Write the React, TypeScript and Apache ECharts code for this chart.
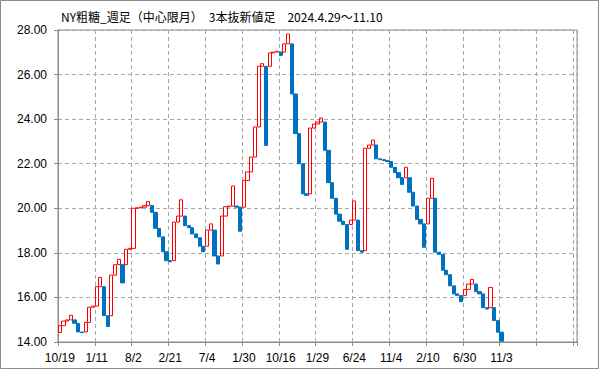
import React, { useEffect, useRef } from "react";
import * as echarts from "echarts";

// Three-line-break ("3本抜新値足") lines: open and close of each line
const lineOpen: number[] = [
  14.43, 14.73, 14.94, 14.99, 14.99, 14.84, 14.45, 14.45, 14.88, 15.56,
  15.61, 16.48, 16.48, 15.18, 15.18, 17.0, 17.47, 17.47, 17.47, 18.16,
  18.2, 20.0, 20.02, 20.05, 20.12, 20.12, 19.82, 19.1, 18.72, 18.05,
  17.65, 17.65, 19.38, 19.65, 19.65, 19.22, 19.13, 18.85, 18.68, 18.3,
  18.3, 19.02, 19.02, 17.86, 17.86, 19.65, 20.07, 20.1, 20.1, 20.05,
  20.05, 21.25, 21.63, 22.3, 23.65, 26.37, 26.37, 26.37, 26.97, 27.01,
  27.01, 27.01, 27.38, 27.38, 25.13, 23.35, 22.0, 20.65, 20.65, 23.6,
  23.78, 23.87, 23.87, 22.6, 21.15, 20.45, 19.74, 19.42, 19.27, 19.27,
  19.47, 19.47, 18.1, 18.1, 22.69, 22.84, 22.84, 22.22, 22.18, 22.14,
  22.1, 21.84, 21.6, 21.37, 21.37, 21.37, 20.72, 20.1, 19.5, 19.3,
  19.3, 20.45, 20.45, 18.03, 17.93, 17.22, 17.02, 16.52, 16.16, 16.09,
  16.09, 16.36, 16.6, 16.6, 16.26, 16.16, 15.54, 15.54, 15.54, 14.96,
  14.44,
];
const lineClose: number[] = [
  14.73, 14.94, 14.99, 15.2, 14.84, 14.45, 14.42, 14.88, 15.56, 15.61,
  16.48, 16.9, 15.18, 14.69, 17.0, 17.47, 17.71, 16.65, 18.16, 18.2,
  20.0, 20.02, 20.05, 20.12, 20.3, 19.82, 19.1, 18.72, 18.05, 17.65,
  17.6, 19.38, 19.65, 20.38, 19.22, 19.13, 18.85, 18.68, 18.3, 18.05,
  19.02, 19.3, 17.86, 17.5, 19.65, 20.07, 20.1, 21.0, 20.05, 18.97,
  21.25, 21.63, 22.3, 23.65, 26.37, 26.49, 22.82, 26.97, 27.01, 27.04,
  26.86, 27.38, 27.82, 25.13, 23.35, 22.0, 20.65, 20.58, 23.6, 23.78,
  23.87, 24.05, 22.6, 21.15, 20.45, 19.74, 19.42, 19.27, 18.16, 19.47,
  20.33, 18.1, 18.03, 22.69, 22.84, 23.06, 22.22, 22.18, 22.14, 22.1,
  21.84, 21.6, 21.37, 21.07, 21.84, 20.72, 20.1, 19.5, 19.3, 18.25,
  20.45, 21.34, 18.03, 17.93, 17.22, 17.02, 16.52, 16.16, 16.09, 15.81,
  16.36, 16.6, 16.81, 16.26, 16.16, 15.54, 15.48, 16.45, 14.96, 14.44,
  14.04,
];

// Date labels shown every 10 lines
const tickLabels: string[] = [
  "10/19", "1/11", "8/2", "2/21", "7/4", "1/30", "10/16",
  "1/29", "6/24", "11/4", "2/10", "6/30", "11/3",
];
const slotCount = 141;
const labelEvery = 10;

const titleText = "NY粗糖_週足（中心限月）　3本抜新値足　2024.4.29～11.10";

export default function App() {
  const ref = useRef<HTMLDivElement>(null);
  useEffect(() => {
    document.body.style.margin = "0";
    const chart = echarts.init(ref.current!, null, { renderer: "svg" });
    const categories = Array.from({ length: slotCount }, (_, i) => String(i));
    const data = lineOpen.map((o, i) => {
      const c = lineClose[i];
      return [o, c, Math.min(o, c), Math.max(o, c)];
    });
    const gridColor = "#a6a6a6";
    const axisColor = "#8c8c8c";
    chart.setOption({
      animation: false,
      title: {
        text: titleText,
        left: 61,
        top: 10,
        padding: 0,
        textStyle: {
          fontSize: 12,
          fontWeight: "normal",
          color: "#000",
          fontFamily: "'Noto Sans CJK JP', sans-serif",
        },
      },
      grid: {
        left: 58,
        right: 22,
        top: 30,
        bottom: 27,
        show: true,
        borderColor: axisColor,
        borderWidth: 1,
        backgroundColor: "transparent",
      },
      xAxis: {
        type: "category",
        data: categories,
        boundaryGap: true,
        axisLine: { show: true, lineStyle: { color: axisColor, width: 1 } },
        axisTick: {
          show: true,
          interval: labelEvery - 1,
          length: 4,
          lineStyle: { color: axisColor },
        },
        axisLabel: {
          interval: labelEvery - 1,
          margin: 10,
          fontSize: 12,
          color: "#000",
          fontFamily: "'Liberation Sans', Arial, sans-serif",
          formatter: (_v: string, idx: number) => {
            const k = idx / labelEvery;
            return Number.isInteger(k) && k < tickLabels.length ? tickLabels[k] : "";
          },
        },
        splitLine: {
          show: true,
          interval: labelEvery - 1,
          lineStyle: { color: gridColor, type: [4, 3], width: 1 },
        },
      },
      yAxis: {
        type: "value",
        min: 14,
        max: 28,
        interval: 2,
        axisLine: { show: true, lineStyle: { color: axisColor, width: 1 } },
        axisTick: { show: true, length: 4, lineStyle: { color: axisColor } },
        axisLabel: {
          margin: 11,
          fontSize: 12,
          color: "#000",
          fontFamily: "'Liberation Sans', Arial, sans-serif",
          formatter: (v: number) => v.toFixed(2),
        },
        splitLine: {
          show: true,
          lineStyle: { color: gridColor, type: [4, 3], width: 1 },
        },
      },
      graphic: [
        {
          type: "rect",
          shape: { x: 0.5, y: 0.5, width: 598, height: 368 },
          style: { fill: "none", stroke: "#8c8c8c", lineWidth: 1 },
          silent: true,
        },
      ],
      series: [
        {
          type: "candlestick",
          data,
          barWidth: 3.68,
          itemStyle: {
            color: "rgba(255,255,255,0)",
            color0: "#0070c0",
            borderColor: "#ff0000",
            borderColor0: "#0070c0",
            borderWidth: 1,
          },
          emphasis: { disabled: true },
        },
      ],
    });
    return () => chart.dispose();
  }, []);
  return <div ref={ref} style={{ width: 599, height: 369 }} />;
}
